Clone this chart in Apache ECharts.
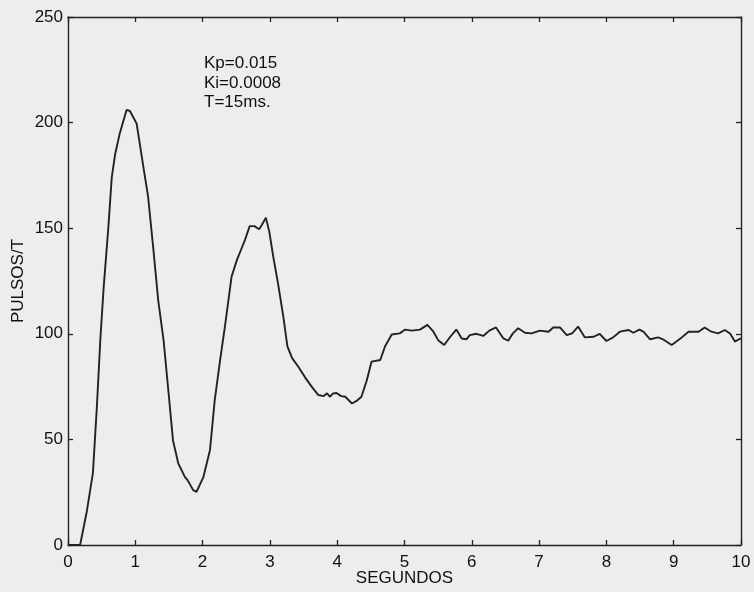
<!DOCTYPE html>
<html>
<head>
<meta charset="utf-8">
<script src="https://cdn.jsdelivr.net/npm/echarts@6/dist/echarts.min.js"></script>
<style>
  html, body { margin: 0; padding: 0; background: #ededed; }
  #chart { width: 754px; height: 592px; }
</style>
</head>
<body>
<div id="chart"></div>
<script>
// time (s) and pulses per sample period
var tiempo = [0, 0.18, 0.28, 0.37, 0.43, 0.48, 0.53, 0.6, 0.65, 0.7, 0.77, 0.87, 0.92, 1.02, 1.12, 1.19, 1.27, 1.34, 1.42, 1.49, 1.56, 1.64, 1.74, 1.77, 1.79, 1.86, 1.91, 2.01, 2.11,
  2.18, 2.26, 2.33, 2.43, 2.51, 2.58, 2.63, 2.7, 2.77, 2.84, 2.88, 2.94, 2.99, 3.05, 3.12, 3.2, 3.26, 3.33, 3.42, 3.52, 3.62, 3.72, 3.8, 3.85, 3.89, 3.94, 3.99, 4.06, 4.12, 4.22, 4.3, 4.36,
  4.44, 4.51, 4.64, 4.71, 4.81, 4.93, 5.01, 5.11, 5.23, 5.34, 5.43, 5.5, 5.59, 5.68, 5.77, 5.85, 5.92, 5.97, 6.07, 6.17, 6.26, 6.36, 6.47, 6.54, 6.61, 6.69, 6.79, 6.89,
  7.01, 7.14, 7.21, 7.31, 7.41, 7.49, 7.58, 7.68, 7.81, 7.9, 8.0, 8.1, 8.2, 8.33, 8.4, 8.49, 8.55, 8.65, 8.77, 8.84, 8.97, 9.12, 9.22, 9.37, 9.46, 9.56, 9.66, 9.76, 9.84, 9.91, 9.97, 10];
var pulsos = [0, 0, 16, 34, 66, 97, 122, 150.5, 174, 185, 195, 206, 205.5, 199.5, 179, 165, 139.5, 116, 97, 73.5, 49.5, 38.5, 32, 31, 30, 26, 25.2, 32, 45,
  68.5, 87.5, 103, 127, 135, 140.5, 144.5, 151, 151, 149.5, 151.5, 155, 148.5, 136.5, 124, 108, 94, 88.5, 84.5, 79.5, 75, 71, 70.5, 71.8, 70.2, 71.8, 72, 70.5, 70.2, 67, 68.5, 70.2,
  78, 86.8, 87.6, 94, 99.7, 100.2, 102, 101.5, 102, 104.2, 101, 97, 94.7, 98.6, 102, 97.8, 97.4, 99.4, 100, 99, 101.5, 103, 97.8, 96.7, 100.2, 102.6, 100.5, 100.2,
  101.5, 101, 103, 103, 99.4, 100.2, 103.4, 98.3, 98.6, 100, 96.6, 98.3, 101, 101.8, 100.5, 102, 101, 97.4, 98.3, 97.4, 94.7, 98.3, 101, 101, 103, 101, 100.2, 101.8, 100, 96.3, 97.4, 97.8];
var xTicks = [0, 1, 2, 3, 4, 5, 6, 7, 8, 9, 10];
var yTicks = [0, 50, 100, 150, 200, 250];
var notas = ['Kp=0.015', 'Ki=0.0008', 'T=15ms.'];

var serie = tiempo.map(function (t, i) { return [t, pulsos[i]]; });

var chart = echarts.init(document.getElementById('chart'));
var txt = { color: '#111', fontSize: 17, fontFamily: 'Liberation Sans, Arial, sans-serif' };
var axisLine = { show: true, onZero: false, lineStyle: { color: '#222', width: 1.4 } };
var tick = { show: true, inside: true, length: 5, lineStyle: { color: '#222', width: 1.3 } };

chart.setOption({
  backgroundColor: '#ededed',
  animation: false,
  grid: { left: 68, right: 13, top: 17, bottom: 47, outerBoundsMode: 'none', containLabel: false },
  xAxis: [{
    type: 'value', min: xTicks[0], max: xTicks[xTicks.length - 1], interval: 1,
    name: 'SEGUNDOS', nameLocation: 'middle', nameGap: 25, nameMoveOverlap: false,
    nameTextStyle: txt,
    axisLine: axisLine, axisTick: tick, splitLine: { show: false },
    axisLabel: Object.assign({ margin: 9 }, txt)
  }, {
    type: 'value', min: xTicks[0], max: xTicks[xTicks.length - 1], interval: 1, position: 'top',
    axisLine: axisLine, axisTick: tick, splitLine: { show: false },
    axisLabel: { show: false }
  }],
  yAxis: [{
    type: 'value', min: yTicks[0], max: yTicks[yTicks.length - 1], interval: 50,
    name: 'PULSOS/T', nameLocation: 'middle', nameGap: 41, nameMoveOverlap: false,
    nameTextStyle: txt,
    axisLine: axisLine, axisTick: tick, splitLine: { show: false },
    axisLabel: Object.assign({ margin: 5 }, txt)
  }, {
    type: 'value', min: yTicks[0], max: yTicks[yTicks.length - 1], interval: 50, position: 'right',
    axisLine: axisLine, axisTick: tick, splitLine: { show: false },
    axisLabel: { show: false }
  }],
  graphic: [{
    type: 'text', left: 204, top: 54,
    style: { text: notas.join('\n'), fill: '#111', font: '17px "Liberation Sans", Arial, sans-serif', lineHeight: 19.5 }
  }],
  series: [{
    type: 'line',
    data: serie,
    showSymbol: false,
    smooth: false,
    lineStyle: { color: '#222', width: 1.9 }
  }]
});
</script>
</body>
</html>
